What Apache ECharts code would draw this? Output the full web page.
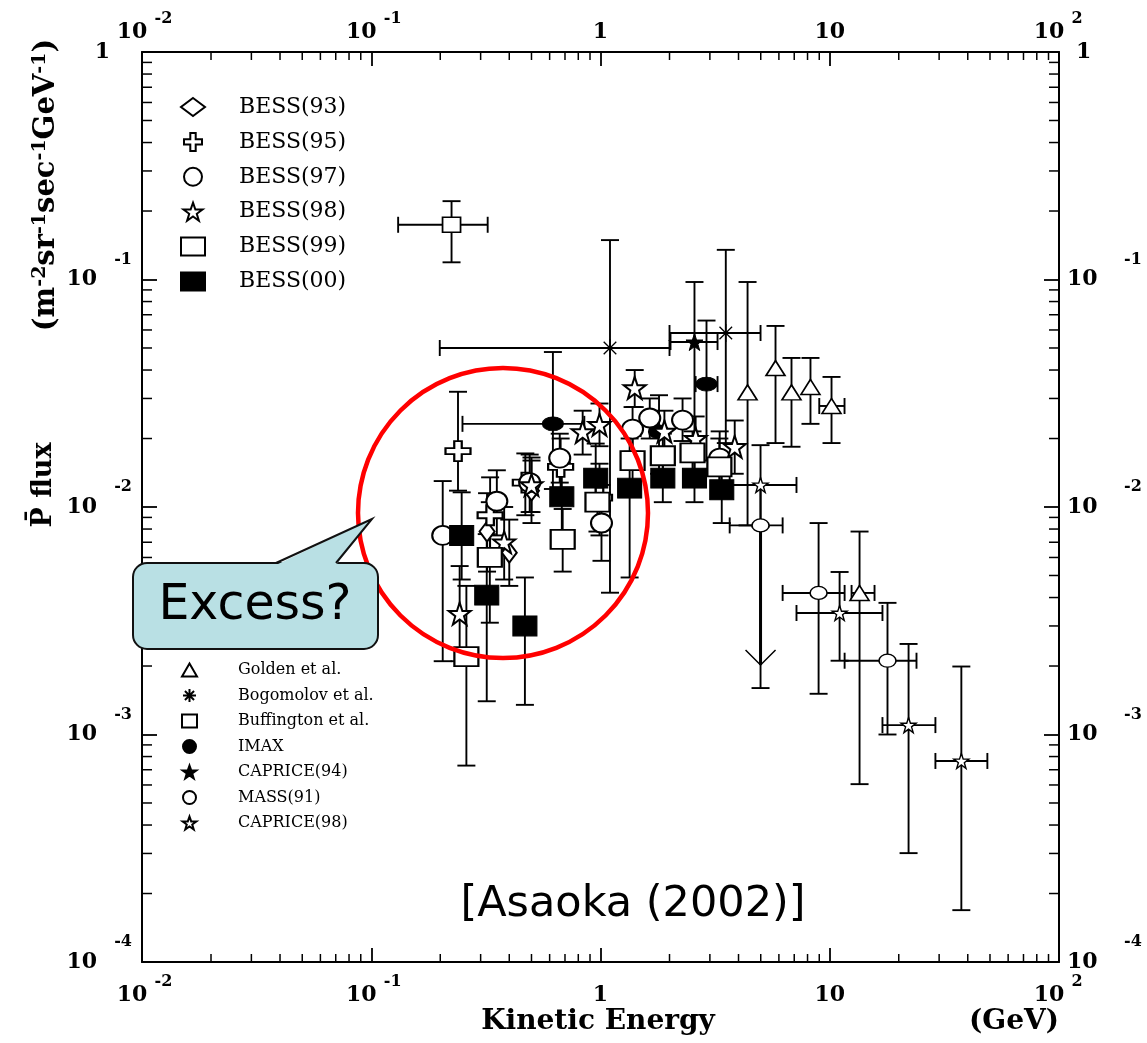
<!DOCTYPE html>
<html><head><meta charset="utf-8">
<script src="https://cdn.jsdelivr.net/npm/echarts@6/dist/echarts.min.js"></script>
<style>html,body{margin:0;padding:0;background:#fff}#c{width:1147px;height:1043px}</style>
</head><body><div id="c"></div>
<script>
// ---- axis ranges ----
const energyRange = [0.01, 100];
const fluxRange = [1e-4, 1];

// ---- data rows: [E (GeV), flux, fluxLow, fluxHigh, ELow, EHigh] ----
const bess93 = [
  [0.32, 0.0078, 0.0052, 0.0115, null, null],
  [0.40, 0.0063, 0.0045, 0.0088, null, null],
  [0.50, 0.0118, 0.0085, 0.0160, null, null]
];
const bess95 = [
  [0.239, 0.0176, 0.0118, 0.0321, null, null],
  [0.33, 0.0092, 0.0060, 0.0135, null, null],
  [0.47, 0.0128, 0.0092, 0.0172, null, null],
  [0.67, 0.0150, 0.0110, 0.0200, null, null],
  [0.99, 0.0110, 0.0075, 0.0155, null, null]
];
const bess97 = [
  [0.205, 0.0075, 0.0021, 0.0130, null, null],
  [0.353, 0.0106, 0.0075, 0.0145, null, null],
  [0.491, 0.0128, 0.0095, 0.0170, null, null],
  [0.664, 0.0164, 0.0128, 0.0210, null, null],
  [1.01, 0.0085, 0.0058, 0.0125, null, null],
  [1.38, 0.0220, 0.0175, 0.0275, null, null],
  [1.64, 0.0246, 0.0200, 0.0300, null, null],
  [2.28, 0.0241, 0.0195, 0.0300, null, null],
  [3.31, 0.0164, 0.0125, 0.0215, null, null]
];
const bess98 = [
  [0.243, 0.0034, 0.0021, 0.0055, null, null],
  [0.38, 0.0070, 0.0048, 0.0100, null, null],
  [0.50, 0.0125, 0.0095, 0.0165, null, null],
  [0.836, 0.0214, 0.0170, 0.0265, null, null],
  [0.99, 0.0230, 0.0185, 0.0285, null, null],
  [1.41, 0.0334, 0.0275, 0.0400, null, null],
  [1.90, 0.0215, 0.0175, 0.0265, null, null],
  [2.60, 0.0200, 0.0160, 0.0250, null, null],
  [3.85, 0.0184, 0.0140, 0.0240, null, null]
];
const bess99 = [
  [0.26, 0.0022, 0.00073, 0.0045, null, null],
  [0.329, 0.0060, 0.0031, 0.0105, null, null],
  [0.684, 0.0072, 0.0052, 0.0098, null, null],
  [0.97, 0.0105, 0.0078, 0.0140, null, null],
  [1.38, 0.0160, 0.0125, 0.0205, null, null],
  [1.87, 0.0168, 0.0135, 0.0210, null, null],
  [2.52, 0.0173, 0.0140, 0.0215, null, null],
  [3.30, 0.0150, 0.0110, 0.0200, null, null]
];
const bess00 = [
  [0.248, 0.0075, 0.0048, 0.0116, null, null],
  [0.319, 0.0041, 0.0014, 0.0076, null, null],
  [0.468, 0.0030, 0.00135, 0.0049, null, null],
  [0.678, 0.0111, 0.0075, 0.0157, null, null],
  [0.953, 0.0134, 0.0096, 0.0190, null, null],
  [1.34, 0.0121, 0.0049, 0.0200, null, null],
  [1.87, 0.0134, 0.0105, 0.0172, null, null],
  [2.57, 0.0134, 0.0105, 0.0172, null, null],
  [3.38, 0.0119, 0.0085, 0.0160, null, null]
];
const golden = [
  [4.38, 0.0319, 0.0083, 0.0975, null, null],
  [5.80, 0.0408, 0.0191, 0.0625, null, null],
  [6.81, 0.0319, 0.0184, 0.0452, null, null],
  [8.24, 0.0337, 0.0232, 0.0452, null, null],
  [10.18, 0.0278, 0.0191, 0.0373, 9.0, 11.6],
  [13.49, 0.00419, 0.000605, 0.0078, 12.45, 15.68]
];
const bogomolov = [
  [1.10, 0.0500, 0.0042, 0.149, 0.199, 2.0],
  [3.52, 0.0582, 0.0191, 0.135, 2.0, 4.99]
];
const buffington = [
  [0.224, 0.174, 0.119, 0.221, 0.131, 0.322]
];
const imax = [
  [0.62, 0.0232, 0.0120, 0.0480, 0.25, 0.85],
  [1.80, 0.0214, 0.0140, 0.0310, null, null],
  [2.90, 0.0347, 0.0160, 0.0660, 2.60, 3.24]
];
const caprice94 = [
  [2.57, 0.0531, 0.0125, 0.0975, 2.02, 3.24]
];
const mass91 = [
  [4.99, 0.0083, 0.0016, 0.0125, 3.66, 6.23],
  [8.94, 0.00419, 0.00151, 0.0085, 6.23, 11.61],
  [17.86, 0.00211, 0.00100, 0.00379, 11.61, 23.9]
];
const caprice98 = [
  [4.99, 0.0125, 0.0082, 0.0187, 3.66, 7.16],
  [11.04, 0.00342, 0.00211, 0.00518, 7.16, 16.98],
  [22.07, 0.00110, 0.000301, 0.0025, 16.98, 28.9],
  [37.5, 0.000765, 0.000169, 0.00199, 28.9, 48.7]
];
// upper-limit arrow: [E, flux from, flux to]
const upperLimit = [[4.99, 0.0083, 0.00202]];

const legendTop = ['BESS(93)', 'BESS(95)', 'BESS(97)', 'BESS(98)', 'BESS(99)', 'BESS(00)'];
const legendBottom = ['Golden et al.', 'Bogomolov et al.', 'Buffington et al.', 'IMAX', 'CAPRICE(94)', 'MASS(91)', 'CAPRICE(98)'];

// minor tick values (axis decoration)
const minorMultipliers = [2, 3, 4, 5, 6, 7, 8, 9];
const xDecades = [-2, -1, 0, 1];
const yDecades = [-4, -3, -2, -1];

// ---- symbols ----
const STAR = 'path://M50,2 L61.8,36.2 L97.6,36.2 L68.9,57.6 L79.4,92 L50,71 L20.6,92 L31.1,57.6 L2.4,36.2 L38.2,36.2 Z';
const CROSS = 'path://M35,0 L65,0 L65,35 L100,35 L100,65 L65,65 L65,100 L35,100 L35,65 L0,65 L0,35 L35,35 Z';
const AST = 'path://M0,50 L100,50 M50,0 L50,100 M15,15 L85,85 M15,85 L85,15';

const seriesDefs = [
  {name: 'Golden et al.', data: golden, symbol: 'triangle', size: [19, 15], fill: '#fff', bw: 1.6},
  {name: 'Bogomolov et al.', data: bogomolov, symbol: AST, size: 18, fill: 'rgba(0,0,0,0)', bw: 1.3},
  {name: 'Buffington et al.', data: buffington, symbol: 'rect', size: [18, 15], fill: '#fff', bw: 1.6},
  {name: 'IMAX', data: imax, symbol: 'circle', size: [21, 14], fill: '#000', bw: 1},
  {name: 'CAPRICE(94)', data: caprice94, symbol: STAR, size: 17, fill: '#000', bw: 1},
  {name: 'MASS(91)', data: mass91, symbol: 'circle', size: [17, 13], fill: '#fff', bw: 1.4},
  {name: 'CAPRICE(98)', data: caprice98, symbol: STAR, size: 15, fill: '#fff', bw: 1.4},
  {name: 'BESS(93)', data: bess93, symbol: 'diamond', size: [15, 20], fill: '#fff', bw: 2},
  {name: 'BESS(95)', data: bess95, symbol: CROSS, size: [25, 20], fill: '#fff', bw: 2},
  {name: 'BESS(97)', data: bess97, symbol: 'circle', size: [21, 19], fill: '#fff', bw: 2},
  {name: 'BESS(98)', data: bess98, symbol: STAR, size: 22, fill: '#fff', bw: 2},
  {name: 'BESS(99)', data: bess99, symbol: 'rect', size: [24, 19], fill: '#fff', bw: 2},
  {name: 'BESS(00)', data: bess00, symbol: 'rect', size: [24, 20], fill: '#000', bw: 1}
];

function ok(v) { return v !== null && v !== undefined && isFinite(v); }

function errRender(params, api) {
  const x = api.value(0), y = api.value(1);
  const ylo = api.value(2), yhi = api.value(3), xlo = api.value(4), xhi = api.value(5);
  const st = {stroke: '#000', lineWidth: 1.9, fill: null};
  const ch = [];
  const capW = 9, capH = 8;
  if (ok(ylo) && ok(yhi)) {
    const a = api.coord([x, ylo]), b = api.coord([x, yhi]);
    ch.push({type: 'line', shape: {x1: a[0], y1: a[1], x2: b[0], y2: b[1]}, style: st});
    ch.push({type: 'line', shape: {x1: a[0] - capW, y1: a[1], x2: a[0] + capW, y2: a[1]}, style: st});
    ch.push({type: 'line', shape: {x1: b[0] - capW, y1: b[1], x2: b[0] + capW, y2: b[1]}, style: st});
  }
  if (ok(xlo) && ok(xhi)) {
    const a = api.coord([xlo, y]), b = api.coord([xhi, y]);
    ch.push({type: 'line', shape: {x1: a[0], y1: a[1], x2: b[0], y2: b[1]}, style: st});
    ch.push({type: 'line', shape: {x1: a[0], y1: a[1] - capH, x2: a[0], y2: a[1] + capH}, style: st});
    ch.push({type: 'line', shape: {x1: b[0], y1: b[1] - capH, x2: b[0], y2: b[1] + capH}, style: st});
  }
  return {type: 'group', children: ch};
}

function arrowRender(params, api) {
  const x = api.value(0);
  const a = api.coord([x, api.value(1)]), b = api.coord([x, api.value(2)]);
  const st = {stroke: '#000', lineWidth: 3, fill: null};
  return {type: 'group', children: [
    {type: 'line', shape: {x1: a[0], y1: a[1], x2: b[0], y2: b[1]}, style: st},
    {type: 'polyline', shape: {points: [[b[0] - 15, b[1] - 15], [b[0], b[1]], [b[0] + 15, b[1] - 15]]}, style: {stroke: '#000', lineWidth: 1.5, fill: null}}
  ]};
}

const xMinorData = [];
xDecades.forEach(d => minorMultipliers.forEach(m => xMinorData.push([m * Math.pow(10, d), fluxRange[0]])));
const yMinorData = [];
yDecades.forEach(d => minorMultipliers.forEach(m => yMinorData.push([energyRange[0], m * Math.pow(10, d)])));

function xMinorRender(params, api) {
  const v = api.value(0);
  const pb = api.coord([v, fluxRange[0]]), pt = api.coord([v, fluxRange[1]]);
  const st = {stroke: '#000', lineWidth: 1.5};
  return {type: 'group', children: [
    {type: 'line', shape: {x1: pb[0], y1: pb[1], x2: pb[0], y2: pb[1] - 8}, style: st},
    {type: 'line', shape: {x1: pt[0], y1: pt[1], x2: pt[0], y2: pt[1] + 8}, style: st}
  ]};
}
function yMinorRender(params, api) {
  const v = api.value(1);
  const pl = api.coord([energyRange[0], v]), pr = api.coord([energyRange[1], v]);
  const st = {stroke: '#000', lineWidth: 1.5};
  return {type: 'group', children: [
    {type: 'line', shape: {x1: pl[0], y1: pl[1], x2: pl[0] + 10, y2: pl[1]}, style: st},
    {type: 'line', shape: {x1: pr[0], y1: pr[1], x2: pr[0] - 10, y2: pr[1]}, style: st}
  ]};
}

const FONT = 'DejaVu Serif';
function tok(size, lh, pad, extra) {
  return Object.assign({fontFamily: FONT, fontWeight: 'bold', fontSize: size, lineHeight: lh, color: '#000', padding: pad}, extra || {});
}
// x-axis labels: exponent on a line above the mantissa
const xRich = {
  b: tok(22, 18, [0, 20, 0, 0]),
  b0: tok(22, 18, [0, 0, 0, 0]),
  s: tok(16, 8, [0, 0, 0, 43], {width: 18, align: 'left'})
};
function xFmt(v) {
  const e = Math.round(Math.log10(v));
  if (e === 0) return '{s| }\n{b0|1}';
  if (e === 1) return '{s| }\n{b0|10}';
  return '{s|' + e + '}\n{b|10}';
}
const yLRich = {
  b: tok(22, 24, [0, 35, 0, 0], {align: 'right'}),
  b1: tok(22, 24, [0, 22, 0, 0], {align: 'right'}),
  s: tok(16, 16, [0, 0, 0, 0], {align: 'right'})
};
const yRRich = {
  b: tok(22, 24, [0, 0, 0, 0], {align: 'left'}),
  b1: tok(22, 24, [0, 0, 0, 9], {align: 'left'}),
  s: tok(16, 16, [0, 0, 0, 57], {align: 'left'})
};
function yFmt(v) {
  const e = Math.round(Math.log10(v));
  if (e === 0) return '{b1|1}';
  return '{s|' + e + '}\n{b|10}\n{s| }';
}

const axisLineStyle = {show: true, lineStyle: {color: '#000', width: 2}};
function xAxisDef(pos, margin) {
  return {
    type: 'log', logBase: 10, min: energyRange[0], max: energyRange[1], position: pos,
    axisLine: axisLineStyle, splitLine: {show: false},
    axisTick: {show: true, inside: true, length: 14, lineStyle: {color: '#000', width: 1.8}},
    axisLabel: {formatter: xFmt, rich: xRich, margin: margin, showMinLabel: true, showMaxLabel: true}
  };
}
function yAxisDef(pos, rich, margin) {
  return {
    type: 'log', logBase: 10, min: fluxRange[0], max: fluxRange[1], position: pos,
    axisLine: axisLineStyle, splitLine: {show: false},
    axisTick: {show: true, inside: true, length: 15, lineStyle: {color: '#000', width: 1.8}},
    axisLabel: {formatter: yFmt, rich: rich, margin: margin, showMinLabel: true, showMaxLabel: true}
  };
}

const series = [];
series.push({type: 'custom', name: 'xminor', data: xMinorData, renderItem: xMinorRender, encode: {x: 0, y: 1}, silent: true, z: 1, clip: false});
series.push({type: 'custom', name: 'yminor', data: yMinorData, renderItem: yMinorRender, encode: {x: 0, y: 1}, silent: true, z: 1, clip: false});
seriesDefs.forEach(d => {
  series.push({type: 'custom', name: 'err ' + d.name, data: d.data, renderItem: errRender, encode: {x: 0, y: 1}, silent: true, z: 2});
});
series.push({type: 'custom', name: 'limit', data: upperLimit, renderItem: arrowRender, encode: {x: 0, y: 1}, silent: true, z: 2});
seriesDefs.forEach(d => {
  series.push({
    type: 'scatter', name: d.name, data: d.data, encode: {x: 0, y: 1},
    symbol: d.symbol, symbolSize: d.size, z: 3,
    itemStyle: {color: d.fill, borderColor: '#000', borderWidth: d.bw, opacity: 1}
  });
});

const chart = echarts.init(document.getElementById('c'), null, {renderer: 'canvas'});
chart.setOption({
  backgroundColor: '#fff',
  animation: false,
  grid: {left: 142, right: 88, top: 52, bottom: 81},
  xAxis: [xAxisDef('bottom', 16), xAxisDef('top', 11)],
  yAxis: [yAxisDef('left', yLRich, 10), yAxisDef('right', yRRich, 8)],
  legend: [
    {data: legendTop, orient: 'vertical', left: 175, top: 91, itemWidth: 24, itemHeight: 18, itemGap: 12.9,
     selectedMode: false, formatter: n => '{g| }' + n,
     textStyle: {fontFamily: FONT, fontSize: 22, lineHeight: 22, color: '#000', rich: {g: {width: 29, fontSize: 10}}}},
    {data: legendBottom, orient: 'vertical', left: 176, top: 657, itemWidth: 15, itemHeight: 13, itemGap: 9.5,
     selectedMode: false, formatter: n => '{g| }' + n,
     textStyle: {fontFamily: FONT, fontSize: 16, lineHeight: 16, color: '#000', rich: {g: {width: 36, fontSize: 10}}}}
  ],
  series: series,
  graphic: [
    {type: 'text', x: 44, y: 485, rotation: Math.PI / 2, z: 50,
     style: {text: 'P\u0304 flux', font: 'bold 27px "DejaVu Serif"', fill: '#000', align: 'center', verticalAlign: 'middle'}},
    {type: 'text', x: 46, y: 185, rotation: Math.PI / 2, z: 50,
     style: {text: '{b|(m}{s|-2}{b|sr}{s|-1}{b|sec}{s|-1}{b|GeV}{s|-1}{b|)}', align: 'center', verticalAlign: 'middle',
       rich: {
         b: {fontFamily: FONT, fontWeight: 'bold', fontSize: 29, lineHeight: 30, verticalAlign: 'middle', fill: '#000'},
         s: {fontFamily: FONT, fontWeight: 'bold', fontSize: 19, lineHeight: 18, verticalAlign: 'top', padding: [0, 0, 40, 0], fill: '#000'}
       }}},
    {type: 'text', x: 598, y: 1022, z: 50,
     style: {text: 'Kinetic Energy', font: 'bold 28px "DejaVu Serif"', fill: '#000', align: 'center', verticalAlign: 'middle'}},
    {type: 'text', x: 1059, y: 1022, z: 50,
     style: {text: '(GeV)', font: 'bold 28px "DejaVu Serif"', fill: '#000', align: 'right', verticalAlign: 'middle'}},
    {type: 'text', x: 633, y: 905, z: 50,
     style: {text: '[Asaoka (2002)]', font: '43px "DejaVu Sans"', fill: '#000', align: 'center', verticalAlign: 'middle'}},
    {type: 'circle', z: 60, shape: {cx: 503, cy: 513, r: 145}, style: {fill: null, stroke: '#ff0000', lineWidth: 4.5}},
    {type: 'rect', z: 70, shape: {x: 133, y: 563, width: 245, height: 86, r: 14},
     style: {fill: '#b9e0e4', stroke: '#111', lineWidth: 2}},
    {type: 'polygon', z: 71, shape: {points: [[276, 565], [372, 519], [336, 565]]}, style: {fill: '#b9e0e4', stroke: null}},
    {type: 'polyline', z: 72, shape: {points: [[276, 563], [372, 519], [336, 563]]}, style: {fill: null, stroke: '#111', lineWidth: 2}},
    {type: 'text', x: 255, y: 606, z: 73,
     style: {text: 'Excess?', font: '49px "DejaVu Sans"', fill: '#000', align: 'center', verticalAlign: 'middle'}}
  ]
});
</script></body></html>
